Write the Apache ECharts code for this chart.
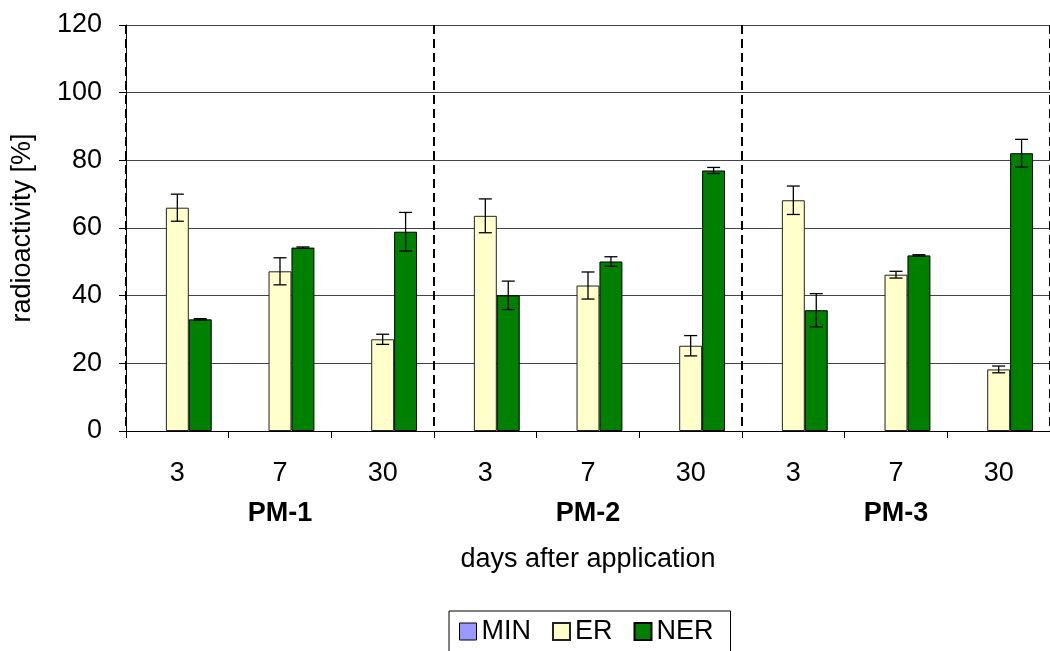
<!DOCTYPE html>
<html>
<head>
<meta charset="utf-8">
<script src="https://cdn.jsdelivr.net/npm/echarts@6/dist/echarts.min.js"></script>
<style>
html,body{margin:0;padding:0;background:#fff;}
#chart{width:1050px;height:651px;}
</style>
</head>
<body>
<div id="chart"></div>
<script>
const categories = ['3','7','30','3','7','30','3','7','30'];
const groups = ['PM-1','PM-2','PM-3'];
const yTicks = [0,20,40,60,80,100,120];
const minValues = [0,0,0,0,0,0,0,0,0];
const erValues = [66, 47.2, 27.1, 63.6, 43, 25.2, 68.2, 46.2, 18.2];
const erErrors = [4, 4, 1.5, 5, 4, 3, 4.2, 1, 1];
const nerValues = [33, 54.2, 58.9, 40.1, 50.1, 77, 35.7, 51.9, 82.1];
const nerErrors = [0.2, 0.2, 5.7, 4.2, 1.4, 0.9, 4.9, 0.2, 4.1];

const FONT = "'Liberation Sans', Arial, sans-serif";
const FS = 27;
const CAT_GAP = 0.33;
const NBARS = 3;

function errSeries(name, values, errors, slot) {
  return {
    name: name + ' err',
    type: 'custom',
    xAxisIndex: 0,
    z: 10,
    silent: true,
    data: values.map((v, i) => [i, v, errors[i]]),
    renderItem: function (params, api) {
      const i = api.value(0), v = api.value(1), e = api.value(2);
      const band = api.size([1, 0])[0];
      const w = band * (1 - CAT_GAP) / NBARS;
      const x = api.coord([i, v])[0] + (slot - 1) * w;
      const yTop = api.coord([i, v + e])[1];
      const yBot = api.coord([i, v - e])[1];
      const cap = 6.5;
      const style = { stroke: '#000', lineWidth: 1.3 };
      return {
        type: 'group',
        children: [
          { type: 'line', shape: { x1: x, y1: yTop, x2: x, y2: yBot }, style: style },
          { type: 'line', shape: { x1: x - cap, y1: yTop, x2: x + cap, y2: yTop }, style: style },
          { type: 'line', shape: { x1: x - cap, y1: yBot, x2: x + cap, y2: yBot }, style: style }
        ]
      };
    }
  };
}

const chart = echarts.init(document.getElementById('chart'), null, { renderer: 'canvas' });
chart.setOption({
  backgroundColor: '#fff',
  animation: false,
  textStyle: { fontFamily: FONT },
  grid: { left: 126, top: 25, width: 930, height: 406 },
  legend: {
    data: [
      { name: 'MIN', itemStyle: { color: '#9999FF', borderColor: '#000', borderWidth: 1 } },
      { name: 'ER' },
      { name: 'NER' }
    ],
    left: 449,
    top: 611,
    padding: [7, 17, 14, 10],
    itemWidth: 17,
    itemHeight: 17,
    itemGap: 21,
    borderColor: '#000',
    borderWidth: 1,
    icon: 'rect',
    textStyle: { fontFamily: FONT, fontSize: FS, color: '#000' }
  },
  xAxis: [
    {
      type: 'category',
      data: categories,
      boundaryGap: true,
      axisLine: { show: true, lineStyle: { color: '#000', width: 1 } },
      axisTick: { show: true, length: 7, lineStyle: { color: '#000' } },
      axisLabel: { margin: 29, fontSize: FS, color: '#000', fontFamily: FONT },
      splitLine: { show: false },
      name: 'days after application',
      nameLocation: 'middle',
      nameGap: 115,
      nameTextStyle: { fontSize: FS, color: '#000', fontFamily: FONT }
    },
    {
      type: 'category',
      data: groups,
      position: 'bottom',
      offset: 61,
      boundaryGap: true,
      axisLine: { show: false },
      axisTick: { show: false },
      axisLabel: { margin: 8, fontSize: FS, fontWeight: 'bold', color: '#000', fontFamily: FONT },
      splitLine: { show: true, lineStyle: { color: '#000', width: 2, type: [9, 5] } }
    }
  ],
  yAxis: {
    type: 'value',
    min: yTicks[0],
    max: yTicks[yTicks.length - 1],
    interval: 20,
    axisLine: { show: true, lineStyle: { color: '#000', width: 1 } },
    axisTick: { show: true, length: 7, lineStyle: { color: '#000' } },
    axisLabel: { margin: 24, fontSize: FS, color: '#000', fontFamily: FONT },
    splitLine: { show: true, lineStyle: { color: '#444', width: 1 } },
    name: 'radioactivity [%]',
    nameLocation: 'middle',
    nameGap: 90,
    nameTextStyle: { fontSize: FS, color: '#000', fontFamily: FONT }
  },
  series: [
    {
      name: 'MIN', type: 'bar', data: minValues, xAxisIndex: 0,
      barGap: '0%', barCategoryGap: (CAT_GAP * 100) + '%',
      itemStyle: { color: '#9999FF', borderWidth: 0 }
    },
    {
      name: 'ER', type: 'bar', data: erValues, xAxisIndex: 0,
      barGap: '0%', barCategoryGap: (CAT_GAP * 100) + '%',
      itemStyle: { color: '#FFFFCC', borderColor: '#222', borderWidth: 1 }
    },
    {
      name: 'NER', type: 'bar', data: nerValues, xAxisIndex: 0,
      barGap: '0%', barCategoryGap: (CAT_GAP * 100) + '%',
      itemStyle: { color: '#008000', borderColor: '#000', borderWidth: 1 }
    },
    errSeries('ER', erValues, erErrors, 1),
    errSeries('NER', nerValues, nerErrors, 2)
  ]
});
</script>
</body>
</html>
